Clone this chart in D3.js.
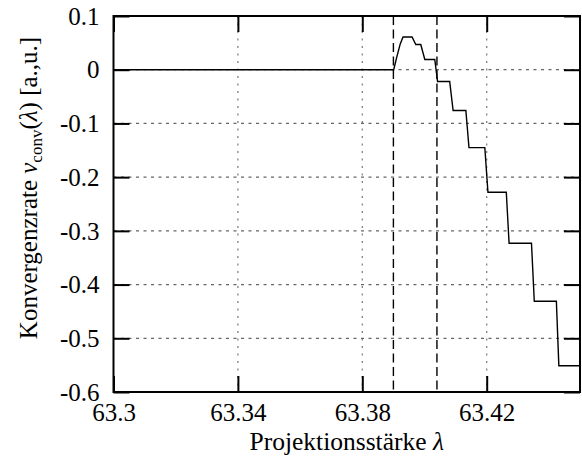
<!DOCTYPE html>
<html>
<head>
<meta charset="utf-8">
<script src="https://cdn.jsdelivr.net/npm/d3@7/dist/d3.min.js"></script>
<style>
  html, body { margin: 0; padding: 0; background: #fff; }
</style>
</head>
<body>
<svg id="chart" width="582" height="459"></svg>
<script>
// Convergence rate as a function of the projection strength
const lambdaValues = [63.3, 63.3901, 63.3911, 63.3922, 63.3931, 63.3960, 63.3972, 63.3988,
  63.4001, 63.4033, 63.4042, 63.4081, 63.4092, 63.4133, 63.4143, 63.4194, 63.4204,
  63.4263, 63.4272, 63.4344, 63.4353, 63.4424, 63.4432, 63.45];
const rateValues = [0, 0, 0.024, 0.048, 0.061, 0.061, 0.047, 0.047,
  0.019, 0.019, -0.022, -0.022, -0.076, -0.076, -0.145, -0.145, -0.228,
  -0.228, -0.323, -0.323, -0.431, -0.431, -0.551, -0.551];

// Boundaries of the interval marked with dashed lines
const markerLambdas = [63.39, 63.404];

const xTicks = [63.3, 63.34, 63.38, 63.42];
const xTickLabels = ["63.3", "63.34", "63.38", "63.42"];
const yTicks = [0.1, 0, -0.1, -0.2, -0.3, -0.4, -0.5, -0.6];
const yTickLabels = ["0.1", "0", "-0.1", "-0.2", "-0.3", "-0.4", "-0.5", "-0.6"];

const serif = "'Liberation Serif', 'DejaVu Serif', 'Times New Roman', Times, serif";

const svg = d3.select("#chart");
const plotLeft = 113.5, plotRight = 580, plotTop = 16, plotBottom = 392;

const x = d3.scaleLinear().domain([63.3, 63.45]).range([plotLeft, plotRight]);
const y = d3.scaleLinear().domain([-0.6, 0.1]).range([plotBottom, plotTop]);

const tickLen = 16;

// Grid
const grid = svg.append("g");
grid.selectAll("line.gx")
  .data(xTicks.filter(d => d > 63.3))
  .join("line")
  .attr("x1", d => x(d)).attr("x2", d => x(d))
  .attr("y1", plotTop).attr("y2", plotBottom)
  .attr("stroke", "#808080").attr("stroke-width", 1.3)
  .attr("stroke-dasharray", "2,5.5");
grid.selectAll("line.gy")
  .data(yTicks.filter(d => d < 0.1 && d > -0.6))
  .join("line")
  .attr("x1", plotLeft).attr("x2", plotRight)
  .attr("y1", d => y(d)).attr("y2", d => y(d))
  .attr("stroke", "#666").attr("stroke-width", 1.2)
  .attr("stroke-dasharray", "3,4.5");

// Dashed interval markers
svg.append("g").selectAll("line")
  .data(markerLambdas)
  .join("line")
  .attr("x1", d => x(d)).attr("x2", d => x(d))
  .attr("y1", plotTop).attr("y2", plotBottom)
  .attr("stroke", "#000").attr("stroke-width", 1.4)
  .attr("stroke-dasharray", "9,4.5");

// Curve
svg.append("clipPath").attr("id", "plotClip")
  .append("rect").attr("x", plotLeft).attr("y", plotTop)
  .attr("width", plotRight - plotLeft).attr("height", plotBottom - plotTop);

const line = d3.line()
  .x((d, i) => x(lambdaValues[i]))
  .y(d => y(d));
svg.append("path")
  .datum(rateValues)
  .attr("clip-path", "url(#plotClip)")
  .attr("fill", "none")
  .attr("stroke", "#000")
  .attr("stroke-width", 1.4)
  .attr("d", line);

// Axes
const xAxis = svg.append("g")
  .attr("transform", `translate(0,${plotBottom})`)
  .call(d3.axisBottom(x).tickValues(xTicks)
    .tickFormat((d, i) => xTickLabels[i])
    .tickSizeInner(-tickLen).tickSizeOuter(0));
xAxis.selectAll("text").attr("dy", null).attr("y", 29);

const xAxisTop = svg.append("g")
  .attr("transform", `translate(0,${plotTop})`)
  .call(d3.axisTop(x).tickValues(xTicks).tickFormat("")
    .tickSizeInner(-tickLen).tickSizeOuter(0));

const yAxis = svg.append("g")
  .attr("transform", `translate(${plotLeft},0)`)
  .call(d3.axisLeft(y).tickValues(yTicks)
    .tickFormat((d, i) => yTickLabels[i])
    .tickSizeInner(-tickLen).tickSizeOuter(0));
yAxis.selectAll("text").attr("x", -14).attr("dy", "0.33em");

const yAxisRight = svg.append("g")
  .attr("transform", `translate(${plotRight},0)`)
  .call(d3.axisRight(y).tickValues(yTicks).tickFormat("")
    .tickSizeInner(-tickLen).tickSizeOuter(0));

[xAxis, xAxisTop, yAxis, yAxisRight].forEach(a => {
  a.attr("font-family", serif).attr("font-size", 25);
  a.select(".domain").remove();
  a.selectAll(".tick line").attr("stroke", "#000").attr("stroke-width", 2);
  a.selectAll("text")
    .attr("fill", "#000")
    .style("font-family", serif)
    .style("font-size", "25px");
});

// Frame
svg.append("rect")
  .attr("x", plotLeft).attr("y", plotTop)
  .attr("width", plotRight - plotLeft).attr("height", plotBottom - plotTop)
  .attr("fill", "none").attr("stroke", "#000").attr("stroke-width", 2);

// Axis titles
const xt = svg.append("text")
  .attr("x", (plotLeft + plotRight) / 2).attr("y", 450)
  .style("font-family", serif)
  .attr("text-anchor", "middle").attr("font-size", 25.5);
xt.append("tspan").text("Projektionsstärke ");
xt.append("tspan").attr("font-style", "italic").text("λ");

const yt = svg.append("text")
  .attr("transform", "translate(37,188) rotate(-90)")
  .style("font-family", serif)
  .attr("text-anchor", "middle").attr("font-size", 25);
yt.append("tspan").text("Konvergenzrate ");
yt.append("tspan").attr("font-style", "italic").text("v");
yt.append("tspan").attr("font-size", 17).attr("dy", 5).text("conv");
yt.append("tspan").attr("dy", -5).text("(");
yt.append("tspan").attr("font-style", "italic").text("λ");
yt.append("tspan").text(") [a.,u.]");
</script>
</body>
</html>
